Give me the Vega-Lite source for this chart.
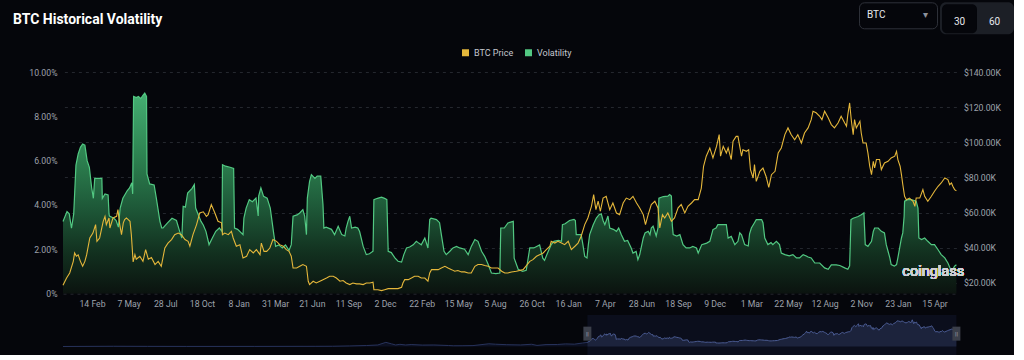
{
  "$schema": "https://vega.github.io/schema/vega-lite/v6.json",
  "background": "#05060b",
  "padding": {"left": 0, "top": 1, "right": 0, "bottom": 0},
  "spacing": 6,
  "config": {"view": {"stroke": null}, "axis": {"labelFont": "Roboto", "labelFontSize": 8.7, "labelColor": "#9ea2ab", "ticks": false, "title": null}, "axisX": {"labelOverlap": false, "labelFlush": false}},
  "datasets": {
    "vol": [
      {"d":"2020-12-11","v":3.25},{"d":"2020-12-20","v":3.7},{"d":"2020-12-25","v":3.6},{"d":"2020-12-30","v":2.95},{"d":"2021-01-04","v":3.6},{"d":"2021-01-09","v":5.8},{"d":"2021-01-14","v":6.3},{"d":"2021-01-19","v":6.6},{"d":"2021-01-24","v":6.75},{"d":"2021-01-29","v":6.7},{"d":"2021-02-03","v":6.0},{"d":"2021-02-08","v":5.7},{"d":"2021-02-13","v":4.8},{"d":"2021-02-17","v":4.3},{"d":"2021-02-20","v":5.2},{"d":"2021-03-08","v":5.2},{"d":"2021-03-09","v":4.3},{"d":"2021-03-15","v":4.5},{"d":"2021-03-22","v":4.45},{"d":"2021-03-24","v":3.6},{"d":"2021-03-25","v":3.5},{"d":"2021-04-04","v":3.4},{"d":"2021-04-09","v":3.3},{"d":"2021-04-14","v":3.0},{"d":"2021-04-18","v":3.86},{"d":"2021-04-24","v":4.3},{"d":"2021-05-04","v":4.65},{"d":"2021-05-09","v":4.77},{"d":"2021-05-14","v":5.0},{"d":"2021-05-16","v":4.5},{"d":"2021-05-18","v":8.9},{"d":"2021-05-24","v":8.85},{"d":"2021-05-29","v":8.9},{"d":"2021-06-03","v":8.8},{"d":"2021-06-08","v":8.95},{"d":"2021-06-12","v":9.05},{"d":"2021-06-16","v":8.9},{"d":"2021-06-17","v":5.4},{"d":"2021-06-23","v":4.95},{"d":"2021-07-03","v":4.9},{"d":"2021-07-08","v":4.3},{"d":"2021-07-16","v":3.26},{"d":"2021-07-20","v":2.96},{"d":"2021-07-23","v":2.96},{"d":"2021-08-02","v":3.19},{"d":"2021-08-12","v":3.4},{"d":"2021-08-22","v":3.3},{"d":"2021-08-28","v":2.89},{"d":"2021-09-03","v":2.51},{"d":"2021-09-06","v":3.94},{"d":"2021-09-11","v":3.9},{"d":"2021-09-16","v":4.54},{"d":"2021-09-26","v":4.75},{"d":"2021-10-01","v":4.92},{"d":"2021-10-04","v":3.86},{"d":"2021-10-11","v":3.5},{"d":"2021-10-16","v":3.26},{"d":"2021-10-21","v":3.1},{"d":"2021-10-27","v":2.81},{"d":"2021-11-03","v":2.21},{"d":"2021-11-10","v":2.5},{"d":"2021-11-18","v":2.81},{"d":"2021-11-26","v":2.96},{"d":"2021-12-02","v":2.8},{"d":"2021-12-03","v":5.82},{"d":"2021-12-10","v":5.75},{"d":"2021-12-20","v":5.7},{"d":"2021-12-28","v":5.65},{"d":"2021-12-30","v":2.96},{"d":"2022-01-06","v":2.9},{"d":"2022-01-18","v":2.66},{"d":"2022-01-20","v":3.41},{"d":"2022-01-25","v":3.86},{"d":"2022-02-01","v":4.24},{"d":"2022-02-08","v":4.15},{"d":"2022-02-16","v":4.31},{"d":"2022-02-21","v":3.5},{"d":"2022-02-22","v":4.4},{"d":"2022-02-27","v":4.77},{"d":"2022-03-05","v":4.39},{"d":"2022-03-13","v":4.31},{"d":"2022-03-20","v":3.86},{"d":"2022-03-28","v":2.66},{"d":"2022-04-01","v":2.13},{"d":"2022-04-08","v":2.2},{"d":"2022-04-16","v":2.06},{"d":"2022-04-23","v":2.2},{"d":"2022-05-01","v":1.95},{"d":"2022-05-06","v":2.21},{"d":"2022-05-10","v":3.49},{"d":"2022-05-19","v":3.55},{"d":"2022-05-25","v":3.64},{"d":"2022-06-01","v":3.79},{"d":"2022-06-05","v":3.5},{"d":"2022-06-09","v":2.66},{"d":"2022-06-11","v":4.31},{"d":"2022-06-16","v":5.07},{"d":"2022-06-20","v":5.37},{"d":"2022-06-28","v":5.2},{"d":"2022-07-03","v":5.3},{"d":"2022-07-11","v":5.3},{"d":"2022-07-16","v":4.02},{"d":"2022-07-18","v":2.96},{"d":"2022-07-23","v":3.0},{"d":"2022-08-04","v":2.9},{"d":"2022-08-11","v":2.66},{"d":"2022-08-19","v":3.04},{"d":"2022-08-27","v":2.66},{"d":"2022-09-03","v":2.6},{"d":"2022-09-06","v":2.96},{"d":"2022-09-10","v":3.26},{"d":"2022-09-14","v":3.49},{"d":"2022-09-18","v":2.96},{"d":"2022-09-26","v":3.0},{"d":"2022-10-02","v":2.96},{"d":"2022-10-06","v":2.8},{"d":"2022-10-14","v":2.13},{"d":"2022-10-21","v":1.76},{"d":"2022-10-28","v":1.8},{"d":"2022-11-05","v":1.91},{"d":"2022-11-07","v":4.24},{"d":"2022-11-15","v":4.3},{"d":"2022-11-24","v":4.35},{"d":"2022-12-01","v":4.3},{"d":"2022-12-06","v":4.24},{"d":"2022-12-09","v":1.91},{"d":"2022-12-16","v":1.85},{"d":"2022-12-24","v":1.61},{"d":"2022-12-31","v":1.46},{"d":"2023-01-08","v":1.42},{"d":"2023-01-13","v":1.76},{"d":"2023-01-19","v":2.06},{"d":"2023-01-26","v":2.1},{"d":"2023-02-03","v":2.2},{"d":"2023-02-10","v":2.36},{"d":"2023-02-14","v":2.3},{"d":"2023-02-21","v":2.2},{"d":"2023-03-01","v":2.51},{"d":"2023-03-08","v":2.06},{"d":"2023-03-12","v":3.34},{"d":"2023-03-15","v":3.4},{"d":"2023-03-27","v":3.34},{"d":"2023-04-03","v":3.2},{"d":"2023-04-07","v":2.66},{"d":"2023-04-13","v":1.91},{"d":"2023-04-18","v":1.76},{"d":"2023-04-26","v":1.91},{"d":"2023-05-03","v":2.06},{"d":"2023-05-11","v":2.13},{"d":"2023-05-18","v":2.06},{"d":"2023-05-29","v":2.0},{"d":"2023-06-06","v":1.76},{"d":"2023-06-13","v":2.13},{"d":"2023-06-21","v":2.44},{"d":"2023-06-28","v":2.36},{"d":"2023-07-06","v":1.91},{"d":"2023-07-13","v":1.68},{"d":"2023-07-21","v":1.31},{"d":"2023-07-28","v":0.93},{"d":"2023-08-07","v":0.9},{"d":"2023-08-16","v":0.93},{"d":"2023-08-18","v":2.96},{"d":"2023-08-26","v":2.96},{"d":"2023-09-03","v":3.19},{"d":"2023-09-15","v":3.26},{"d":"2023-09-17","v":1.6},{"d":"2023-09-26","v":1.1},{"d":"2023-10-06","v":1.0},{"d":"2023-10-14","v":1.05},{"d":"2023-10-22","v":2.06},{"d":"2023-10-31","v":2.06},{"d":"2023-11-13","v":2.2},{"d":"2023-11-20","v":1.6},{"d":"2023-11-24","v":1.5},{"d":"2023-11-30","v":1.8},{"d":"2023-12-09","v":2.21},{"d":"2023-12-15","v":2.36},{"d":"2023-12-25","v":2.4},{"d":"2024-01-01","v":2.36},{"d":"2024-01-03","v":3.11},{"d":"2024-01-09","v":3.15},{"d":"2024-01-19","v":3.3},{"d":"2024-01-29","v":3.35},{"d":"2024-02-01","v":3.3},{"d":"2024-02-03","v":2.66},{"d":"2024-02-14","v":2.66},{"d":"2024-02-18","v":2.2},{"d":"2024-02-22","v":1.68},{"d":"2024-02-27","v":1.61},{"d":"2024-03-01","v":2.2},{"d":"2024-03-04","v":2.66},{"d":"2024-03-12","v":3.11},{"d":"2024-03-19","v":3.41},{"d":"2024-03-25","v":3.56},{"d":"2024-03-30","v":3.6},{"d":"2024-04-03","v":3.3},{"d":"2024-04-07","v":3.11},{"d":"2024-04-14","v":3.5},{"d":"2024-04-18","v":2.96},{"d":"2024-04-26","v":2.9},{"d":"2024-05-03","v":2.81},{"d":"2024-05-08","v":2.96},{"d":"2024-05-14","v":2.66},{"d":"2024-05-21","v":2.36},{"d":"2024-05-28","v":2.4},{"d":"2024-06-05","v":2.06},{"d":"2024-06-09","v":1.83},{"d":"2024-06-16","v":1.9},{"d":"2024-06-20","v":1.53},{"d":"2024-06-24","v":1.75},{"d":"2024-07-02","v":2.51},{"d":"2024-07-06","v":2.74},{"d":"2024-07-13","v":2.81},{"d":"2024-07-17","v":2.66},{"d":"2024-07-20","v":2.96},{"d":"2024-07-24","v":3.04},{"d":"2024-07-31","v":2.6},{"d":"2024-08-04","v":2.96},{"d":"2024-08-06","v":4.31},{"d":"2024-08-16","v":4.38},{"d":"2024-08-26","v":4.4},{"d":"2024-08-30","v":4.47},{"d":"2024-09-03","v":4.4},{"d":"2024-09-05","v":3.1},{"d":"2024-09-07","v":2.66},{"d":"2024-09-15","v":2.6},{"d":"2024-09-22","v":2.66},{"d":"2024-09-29","v":2.21},{"d":"2024-10-06","v":2.06},{"d":"2024-10-14","v":2.06},{"d":"2024-10-21","v":2.13},{"d":"2024-10-29","v":2.06},{"d":"2024-11-02","v":1.83},{"d":"2024-11-10","v":2.21},{"d":"2024-11-21","v":2.28},{"d":"2024-11-28","v":2.36},{"d":"2024-12-05","v":2.89},{"d":"2024-12-12","v":2.96},{"d":"2024-12-16","v":3.11},{"d":"2024-12-27","v":3.11},{"d":"2025-01-04","v":3.11},{"d":"2025-01-08","v":2.51},{"d":"2025-01-15","v":2.58},{"d":"2025-01-23","v":2.21},{"d":"2025-01-30","v":2.36},{"d":"2025-02-03","v":2.74},{"d":"2025-02-07","v":2.65},{"d":"2025-02-14","v":2.21},{"d":"2025-02-22","v":2.15},{"d":"2025-02-25","v":2.7},{"d":"2025-03-01","v":2.96},{"d":"2025-03-08","v":3.2},{"d":"2025-03-12","v":3.34},{"d":"2025-03-24","v":3.34},{"d":"2025-03-27","v":3.2},{"d":"2025-03-31","v":2.51},{"d":"2025-04-07","v":2.21},{"d":"2025-04-14","v":2.3},{"d":"2025-04-18","v":2.21},{"d":"2025-04-26","v":2.36},{"d":"2025-05-03","v":2.21},{"d":"2025-05-07","v":1.83},{"d":"2025-05-15","v":1.76},{"d":"2025-05-25","v":1.7},{"d":"2025-06-02","v":1.76},{"d":"2025-06-10","v":1.61},{"d":"2025-06-17","v":1.61},{"d":"2025-06-25","v":1.76},{"d":"2025-07-02","v":1.7},{"d":"2025-07-06","v":1.65},{"d":"2025-07-13","v":1.61},{"d":"2025-07-21","v":1.38},{"d":"2025-08-01","v":1.38},{"d":"2025-08-12","v":1.16},{"d":"2025-08-20","v":1.1},{"d":"2025-08-27","v":1.3},{"d":"2025-09-07","v":1.3},{"d":"2025-09-15","v":1.27},{"d":"2025-09-26","v":1.16},{"d":"2025-10-03","v":1.1},{"d":"2025-10-07","v":1.25},{"d":"2025-10-10","v":3.34},{"d":"2025-10-15","v":3.4},{"d":"2025-10-26","v":3.48},{"d":"2025-11-02","v":3.56},{"d":"2025-11-08","v":3.64},{"d":"2025-11-11","v":2.21},{"d":"2025-11-17","v":2.13},{"d":"2025-11-25","v":2.36},{"d":"2025-11-29","v":2.81},{"d":"2025-12-02","v":2.96},{"d":"2025-12-10","v":2.96},{"d":"2025-12-17","v":2.81},{"d":"2025-12-24","v":2.74},{"d":"2025-12-28","v":2.21},{"d":"2026-01-01","v":1.91},{"d":"2026-01-05","v":1.61},{"d":"2026-01-08","v":1.31},{"d":"2026-01-15","v":1.24},{"d":"2026-01-20","v":1.31},{"d":"2026-01-23","v":1.61},{"d":"2026-01-27","v":2.06},{"d":"2026-01-31","v":2.51},{"d":"2026-02-03","v":2.74},{"d":"2026-02-06","v":3.49},{"d":"2026-02-07","v":4.17},{"d":"2026-02-14","v":4.24},{"d":"2026-02-22","v":4.24},{"d":"2026-03-05","v":4.17},{"d":"2026-03-09","v":3.86},{"d":"2026-03-11","v":2.51},{"d":"2026-03-17","v":2.44},{"d":"2026-03-24","v":2.51},{"d":"2026-03-31","v":2.36},{"d":"2026-04-08","v":2.21},{"d":"2026-04-15","v":2.21},{"d":"2026-04-23","v":1.98},{"d":"2026-04-30","v":1.76},{"d":"2026-05-08","v":1.61},{"d":"2026-05-15","v":1.38},{"d":"2026-05-23","v":1.0},{"d":"2026-05-26","v":1.1},{"d":"2026-05-30","v":1.24},{"d":"2026-06-03","v":1.3}
    ],
    "price": [
      {"d":"2020-12-11","p":18.7},{"d":"2020-12-19","p":22.8},{"d":"2020-12-26","p":25.7},{"d":"2021-01-03","p":32.3},{"d":"2021-01-06","p":37.1},{"d":"2021-01-10","p":35.2},{"d":"2021-01-14","p":36.0},{"d":"2021-01-19","p":32.3},{"d":"2021-01-24","p":29.5},{"d":"2021-01-29","p":32.3},{"d":"2021-02-02","p":36.1},{"d":"2021-02-09","p":45.6},{"d":"2021-02-16","p":48.4},{"d":"2021-02-22","p":53.2},{"d":"2021-02-25","p":43.7},{"d":"2021-03-03","p":45.6},{"d":"2021-03-11","p":55.1},{"d":"2021-03-15","p":57.9},{"d":"2021-03-18","p":53.2},{"d":"2021-03-24","p":57.0},{"d":"2021-03-26","p":51.3},{"d":"2021-04-02","p":57.0},{"d":"2021-04-10","p":57.9},{"d":"2021-04-13","p":61.7},{"d":"2021-04-17","p":53.2},{"d":"2021-04-21","p":47.5},{"d":"2021-04-25","p":54.2},{"d":"2021-04-28","p":56.1},{"d":"2021-05-02","p":57.0},{"d":"2021-05-10","p":55.1},{"d":"2021-05-13","p":47.5},{"d":"2021-05-17","p":32.0},{"d":"2021-05-21","p":36.1},{"d":"2021-05-24","p":33.5},{"d":"2021-06-01","p":35.2},{"d":"2021-06-08","p":32.3},{"d":"2021-06-14","p":39.0},{"d":"2021-06-20","p":33.5},{"d":"2021-06-27","p":34.5},{"d":"2021-07-05","p":30.5},{"d":"2021-07-12","p":32.3},{"d":"2021-07-19","p":29.5},{"d":"2021-07-27","p":39.9},{"d":"2021-08-03","p":42.7},{"d":"2021-08-11","p":44.7},{"d":"2021-08-18","p":47.5},{"d":"2021-08-26","p":48.4},{"d":"2021-09-02","p":47.5},{"d":"2021-09-10","p":44.7},{"d":"2021-09-17","p":43.7},{"d":"2021-09-21","p":40.9},{"d":"2021-09-28","p":47.5},{"d":"2021-10-06","p":53.2},{"d":"2021-10-13","p":59.8},{"d":"2021-10-21","p":60.5},{"d":"2021-10-28","p":57.9},{"d":"2021-11-01","p":58.9},{"d":"2021-11-08","p":64.6},{"d":"2021-11-16","p":59.8},{"d":"2021-11-23","p":55.1},{"d":"2021-12-01","p":54.2},{"d":"2021-12-03","p":47.5},{"d":"2021-12-08","p":48.4},{"d":"2021-12-16","p":47.5},{"d":"2021-12-23","p":49.4},{"d":"2021-12-27","p":45.6},{"d":"2022-01-03","p":40.9},{"d":"2022-01-11","p":41.8},{"d":"2022-01-18","p":34.2},{"d":"2022-01-26","p":35.2},{"d":"2022-02-02","p":39.0},{"d":"2022-02-10","p":37.1},{"d":"2022-02-17","p":39.0},{"d":"2022-02-25","p":36.1},{"d":"2022-02-28","p":42.7},{"d":"2022-03-06","p":38.0},{"d":"2022-03-12","p":38.0},{"d":"2022-03-19","p":39.9},{"d":"2022-03-26","p":44.7},{"d":"2022-04-03","p":43.7},{"d":"2022-04-10","p":41.8},{"d":"2022-04-18","p":40.9},{"d":"2022-04-25","p":39.0},{"d":"2022-05-01","p":38.0},{"d":"2022-05-06","p":35.2},{"d":"2022-05-10","p":28.5},{"d":"2022-05-18","p":28.5},{"d":"2022-05-25","p":29.5},{"d":"2022-06-01","p":30.5},{"d":"2022-06-09","p":29.5},{"d":"2022-06-13","p":21.0},{"d":"2022-06-16","p":19.1},{"d":"2022-06-24","p":21.0},{"d":"2022-07-01","p":20.0},{"d":"2022-07-09","p":21.0},{"d":"2022-07-16","p":21.9},{"d":"2022-07-24","p":22.8},{"d":"2022-07-31","p":23.8},{"d":"2022-08-08","p":23.8},{"d":"2022-08-15","p":22.8},{"d":"2022-08-23","p":21.0},{"d":"2022-08-30","p":21.4},{"d":"2022-09-06","p":20.0},{"d":"2022-09-14","p":19.1},{"d":"2022-09-21","p":20.0},{"d":"2022-09-29","p":19.5},{"d":"2022-10-06","p":19.5},{"d":"2022-10-14","p":19.1},{"d":"2022-10-21","p":20.0},{"d":"2022-10-29","p":20.0},{"d":"2022-11-05","p":20.4},{"d":"2022-11-07","p":16.2},{"d":"2022-11-16","p":16.2},{"d":"2022-11-24","p":15.7},{"d":"2022-12-01","p":16.2},{"d":"2022-12-09","p":16.8},{"d":"2022-12-16","p":16.8},{"d":"2022-12-24","p":16.8},{"d":"2022-12-31","p":16.8},{"d":"2023-01-08","p":17.6},{"d":"2023-01-11","p":20.0},{"d":"2023-01-15","p":21.9},{"d":"2023-01-23","p":21.9},{"d":"2023-01-30","p":22.8},{"d":"2023-02-06","p":23.8},{"d":"2023-02-14","p":23.8},{"d":"2023-02-21","p":22.8},{"d":"2023-03-01","p":22.8},{"d":"2023-03-08","p":21.0},{"d":"2023-03-12","p":25.7},{"d":"2023-03-16","p":27.6},{"d":"2023-03-23","p":27.6},{"d":"2023-03-31","p":27.6},{"d":"2023-04-07","p":28.5},{"d":"2023-04-15","p":29.5},{"d":"2023-04-22","p":28.5},{"d":"2023-04-30","p":27.6},{"d":"2023-05-07","p":26.7},{"d":"2023-05-14","p":27.1},{"d":"2023-05-22","p":26.3},{"d":"2023-05-29","p":26.3},{"d":"2023-06-06","p":25.7},{"d":"2023-06-13","p":25.7},{"d":"2023-06-21","p":29.5},{"d":"2023-06-28","p":30.5},{"d":"2023-07-06","p":30.5},{"d":"2023-07-13","p":30.0},{"d":"2023-07-21","p":29.5},{"d":"2023-07-28","p":28.5},{"d":"2023-08-12","p":28.5},{"d":"2023-08-20","p":26.7},{"d":"2023-08-27","p":25.7},{"d":"2023-09-03","p":25.7},{"d":"2023-09-11","p":26.3},{"d":"2023-09-22","p":26.7},{"d":"2023-10-07","p":27.6},{"d":"2023-10-22","p":32.3},{"d":"2023-10-29","p":33.3},{"d":"2023-11-06","p":35.2},{"d":"2023-11-13","p":36.1},{"d":"2023-11-21","p":37.1},{"d":"2023-11-28","p":39.0},{"d":"2023-12-06","p":40.9},{"d":"2023-12-09","p":43.7},{"d":"2023-12-17","p":42.7},{"d":"2023-12-24","p":43.7},{"d":"2024-01-01","p":42.7},{"d":"2024-01-08","p":41.8},{"d":"2024-01-16","p":43.7},{"d":"2024-01-23","p":39.0},{"d":"2024-01-31","p":40.9},{"d":"2024-02-07","p":42.7},{"d":"2024-02-14","p":46.6},{"d":"2024-02-22","p":53.2},{"d":"2024-02-29","p":57.0},{"d":"2024-03-08","p":63.6},{"d":"2024-03-13","p":70.3},{"d":"2024-03-18","p":61.7},{"d":"2024-03-23","p":66.5},{"d":"2024-03-28","p":60.8},{"d":"2024-04-03","p":68.3},{"d":"2024-04-10","p":69.3},{"d":"2024-04-18","p":61.7},{"d":"2024-04-25","p":65.5},{"d":"2024-05-03","p":59.8},{"d":"2024-05-10","p":58.9},{"d":"2024-05-18","p":65.5},{"d":"2024-05-25","p":68.3},{"d":"2024-06-02","p":67.4},{"d":"2024-06-09","p":69.3},{"d":"2024-06-17","p":65.5},{"d":"2024-06-24","p":62.7},{"d":"2024-07-02","p":58.9},{"d":"2024-07-07","p":53.2},{"d":"2024-07-13","p":58.9},{"d":"2024-07-20","p":64.6},{"d":"2024-07-28","p":66.5},{"d":"2024-08-04","p":62.7},{"d":"2024-08-08","p":51.3},{"d":"2024-08-14","p":58.9},{"d":"2024-08-19","p":57.0},{"d":"2024-08-26","p":59.8},{"d":"2024-09-03","p":55.1},{"d":"2024-09-10","p":57.0},{"d":"2024-09-18","p":62.7},{"d":"2024-09-25","p":64.6},{"d":"2024-10-03","p":59.8},{"d":"2024-10-10","p":63.6},{"d":"2024-10-18","p":65.5},{"d":"2024-10-25","p":67.4},{"d":"2024-11-02","p":67.4},{"d":"2024-11-05","p":70.3},{"d":"2024-11-09","p":74.0},{"d":"2024-11-14","p":86.4},{"d":"2024-11-20","p":92.1},{"d":"2024-11-28","p":96.8},{"d":"2024-12-05","p":91.1},{"d":"2024-12-13","p":97.7},{"d":"2024-12-19","p":104.4},{"d":"2024-12-22","p":92.1},{"d":"2024-12-28","p":97.7},{"d":"2025-01-04","p":93.9},{"d":"2025-01-08","p":96.8},{"d":"2025-01-15","p":90.2},{"d":"2025-01-19","p":100.6},{"d":"2025-01-26","p":103.4},{"d":"2025-01-30","p":103.4},{"d":"2025-02-03","p":97.7},{"d":"2025-02-07","p":92.1},{"d":"2025-02-10","p":95.8},{"d":"2025-02-18","p":94.9},{"d":"2025-02-23","p":95.8},{"d":"2025-02-27","p":84.5},{"d":"2025-03-05","p":79.7},{"d":"2025-03-08","p":87.3},{"d":"2025-03-12","p":77.8},{"d":"2025-03-20","p":83.5},{"d":"2025-03-27","p":85.4},{"d":"2025-04-03","p":80.6},{"d":"2025-04-09","p":74.4},{"d":"2025-04-15","p":81.6},{"d":"2025-04-23","p":83.5},{"d":"2025-04-30","p":93.9},{"d":"2025-05-07","p":96.8},{"d":"2025-05-15","p":104.4},{"d":"2025-05-22","p":108.2},{"d":"2025-05-29","p":104.4},{"d":"2025-06-06","p":101.5},{"d":"2025-06-13","p":104.4},{"d":"2025-06-21","p":99.6},{"d":"2025-06-28","p":105.3},{"d":"2025-07-06","p":108.2},{"d":"2025-07-13","p":112.9},{"d":"2025-07-17","p":117.7},{"d":"2025-07-24","p":116.8},{"d":"2025-08-01","p":114.8},{"d":"2025-08-06","p":112.9},{"d":"2025-08-12","p":117.7},{"d":"2025-08-20","p":114.0},{"d":"2025-08-27","p":110.1},{"d":"2025-09-03","p":108.2},{"d":"2025-09-11","p":111.0},{"d":"2025-09-18","p":114.8},{"d":"2025-09-26","p":111.0},{"d":"2025-09-30","p":109.2},{"d":"2025-10-03","p":115.8},{"d":"2025-10-07","p":122.4},{"d":"2025-10-11","p":112.0},{"d":"2025-10-15","p":104.4},{"d":"2025-10-18","p":112.9},{"d":"2025-10-22","p":108.2},{"d":"2025-10-30","p":112.0},{"d":"2025-11-02","p":105.3},{"d":"2025-11-06","p":99.6},{"d":"2025-11-13","p":99.6},{"d":"2025-11-17","p":93.9},{"d":"2025-11-21","p":86.4},{"d":"2025-11-25","p":81.6},{"d":"2025-11-29","p":89.2},{"d":"2025-12-02","p":85.4},{"d":"2025-12-06","p":90.2},{"d":"2025-12-13","p":90.2},{"d":"2025-12-17","p":84.5},{"d":"2025-12-24","p":88.3},{"d":"2026-01-01","p":89.2},{"d":"2026-01-08","p":91.1},{"d":"2026-01-16","p":92.1},{"d":"2026-01-20","p":94.9},{"d":"2026-01-23","p":90.2},{"d":"2026-01-28","p":86.4},{"d":"2026-01-31","p":81.6},{"d":"2026-02-03","p":76.0},{"d":"2026-02-07","p":69.3},{"d":"2026-02-11","p":67.4},{"d":"2026-02-18","p":68.3},{"d":"2026-02-26","p":66.5},{"d":"2026-03-02","p":63.6},{"d":"2026-03-05","p":68.3},{"d":"2026-03-13","p":68.3},{"d":"2026-03-20","p":73.1},{"d":"2026-03-24","p":69.3},{"d":"2026-03-31","p":66.5},{"d":"2026-04-08","p":69.3},{"d":"2026-04-15","p":72.2},{"d":"2026-04-23","p":75.0},{"d":"2026-04-30","p":76.9},{"d":"2026-05-08","p":79.7},{"d":"2026-05-15","p":78.8},{"d":"2026-05-19","p":75.9},{"d":"2026-05-23","p":76.9},{"d":"2026-05-26","p":75.0},{"d":"2026-05-30","p":73.1},{"d":"2026-06-03","p":72.5}
    ],
    "hist": [
      {"d":"2013-03-01","p":0.05},{"d":"2013-12-01","p":1.0},{"d":"2014-06-01","p":0.6},{"d":"2015-01-01","p":0.3},{"d":"2016-01-01","p":0.4},{"d":"2016-12-01","p":0.8},{"d":"2017-03-01","p":1.1},{"d":"2017-06-01","p":2.5},{"d":"2017-09-01","p":4.5},{"d":"2017-11-01","p":7.0},{"d":"2017-12-15","p":19.0},{"d":"2018-01-15","p":12.0},{"d":"2018-02-06","p":7.0},{"d":"2018-03-01","p":10.0},{"d":"2018-04-01","p":7.0},{"d":"2018-05-01","p":9.0},{"d":"2018-07-01","p":6.5},{"d":"2018-09-01","p":7.0},{"d":"2018-11-20","p":4.5},{"d":"2018-12-15","p":3.3},{"d":"2019-02-01","p":3.5},{"d":"2019-04-01","p":4.1},{"d":"2019-06-26","p":12.5},{"d":"2019-08-01","p":10.5},{"d":"2019-10-01","p":8.3},{"d":"2019-12-15","p":7.1},{"d":"2020-02-13","p":10.3},{"d":"2020-03-13","p":5.0},{"d":"2020-05-01","p":8.8},{"d":"2020-07-01","p":9.2},{"d":"2020-08-15","p":11.9},{"d":"2020-10-01","p":10.6},{"d":"2020-11-15","p":16.0},{"d":"2020-12-11","p":18.7}
    ],
    "sel": [{"s":"2020-12-11","e":"2026-06-03"}],
    "handles": [{"d":"2020-12-11"},{"d":"2026-06-03"}],
    "controls": [{"w":"30"},{"w":"60"}]
  },
  "vconcat": [
    {
      "title": {"text": "BTC Historical Volatility", "anchor": "start", "dx": 13, "color": "#ffffff", "fontSize": 14, "fontWeight": "bold", "font": "Roboto", "offset": 41},
      "width": 893.4,
      "height": 221.6,
      "encoding": {
        "x": {"field": "d", "type": "temporal",
          "scale": {"type": "utc", "domain": [{"year":2020,"month":12,"date":11,"utc":true},{"year":2026,"month":6,"date":3,"utc":true}]},
          "axis": {"values": [
            {"year":2021,"month":2,"date":14,"utc":true},{"year":2021,"month":5,"date":7,"utc":true},{"year":2021,"month":7,"date":28,"utc":true},{"year":2021,"month":10,"date":18,"utc":true},
            {"year":2022,"month":1,"date":8,"utc":true},{"year":2022,"month":3,"date":31,"utc":true},{"year":2022,"month":6,"date":21,"utc":true},{"year":2022,"month":9,"date":11,"utc":true},{"year":2022,"month":12,"date":2,"utc":true},
            {"year":2023,"month":2,"date":22,"utc":true},{"year":2023,"month":5,"date":15,"utc":true},{"year":2023,"month":8,"date":5,"utc":true},{"year":2023,"month":10,"date":26,"utc":true},
            {"year":2024,"month":1,"date":16,"utc":true},{"year":2024,"month":4,"date":7,"utc":true},{"year":2024,"month":6,"date":28,"utc":true},{"year":2024,"month":9,"date":18,"utc":true},{"year":2024,"month":12,"date":9,"utc":true},
            {"year":2025,"month":3,"date":1,"utc":true},{"year":2025,"month":5,"date":22,"utc":true},{"year":2025,"month":8,"date":12,"utc":true},{"year":2025,"month":11,"date":2,"utc":true},
            {"year":2026,"month":1,"date":23,"utc":true},{"year":2026,"month":4,"date":15,"utc":true}],
            "format": "%-d %b", "labelFlush": false, "labelOverlap": false, "labelSeparation": 0, "grid": false, "domain": true, "domainColor": "#2a2d35", "domainDash": [3, 4], "labelPadding": 6, "minExtent": 14, "maxExtent": 14}
        }
      },
      "layer": [
        {
          "data": {"name": "vol"},
          "encoding": {
            "y": {"field": "v", "type": "quantitative", "scale": {"domain": [0, 10], "nice": false},
              "axis": {"orient": "left", "values": [0, 2, 4, 6, 8, 10], "labelExpr": "datum.value == 0 ? '0%' : format(datum.value, '.2f') + '%'", "grid": false, "domain": false, "labelPadding": 6, "minExtent": 63, "maxExtent": 63}}
          },
          "layer": [
            {"mark": {"type": "area", "interpolate": "linear", "color": {"gradient": "linear", "x1": 1, "y1": 1, "x2": 1, "y2": 0, "stops": [{"offset": 0, "color": "#0b130f"}, {"offset": 0.2, "color": "#12301f"}, {"offset": 0.45, "color": "#1f5c3a"}, {"offset": 0.7, "color": "#2e8452"}, {"offset": 1, "color": "#45ae72"}]}}},
            {"mark": {"type": "line", "strokeWidth": 1.2, "interpolate": "linear"},
             "encoding": {"color": {"datum": "Volatility", "type": "nominal", "scale": {"domain": ["BTC Price", "Volatility"], "range": ["#e5b73b", "#52c882"]},
               "legend": {"orient": "none", "legendX": 398, "legendY": -24, "direction": "horizontal", "title": null, "symbolType": "square", "symbolSize": 49, "symbolStrokeWidth": 0, "labelColor": "#c4c7ce", "labelFont": "Roboto", "labelFontSize": 9, "columnPadding": 10, "labelOffset": 4,
                 "encode": {"symbols": {"update": {"fill": {"scale": "color", "field": "value"}, "strokeWidth": {"value": 0}}}}}}}},
            {"mark": {"type": "text", "text": "coinglass", "align": "left", "baseline": "middle", "font": "Roboto", "fontSize": 14.5, "fontWeight": "normal", "color": "#d0d2d6", "opacity": 0.85},
             "encoding": {"x": {"datum": {"year": 2026, "month": 2, "date": 2, "utc": true}, "type": "temporal"}, "y": {"datum": 0.96}}}
          ]
        },
        {
          "data": {"name": "price"},
          "mark": {"type": "line", "strokeWidth": 1.1, "interpolate": "linear"},
          "encoding": {
            "y": {"field": "p", "type": "quantitative", "scale": {"domain": [13.97, 140], "nice": false, "zero": false},
              "axis": {"orient": "right", "values": [20, 40, 60, 80, 100, 120, 140], "labelExpr": "'$' + format(datum.value, '.2f') + 'K'", "grid": true, "gridColor": "#24272e", "gridDash": [3, 4], "domain": false, "labelPadding": 7}},
            "color": {"datum": "BTC Price", "type": "nominal"}
          }
        },
        {
          "data": {"name": "controls"},
          "mark": {"type": "point", "opacity": 0},
          "encoding": {
            "x": {"value": 0},
            "y": {"value": 0},
            "shape": {"datum": "BTC", "type": "nominal", "scale": {"domain": ["BTC"], "range": ["circle"]},
              "legend": {"orient": "none", "legendX": 796, "legendY": -69.7, "title": "BTC", "titleOrient": "left", "titleAnchor": "middle", "titleBaseline": "middle", "titleColor": "#e6e8ec", "titleFont": "Roboto", "titleFontSize": 10, "titleFontWeight": "normal", "titlePadding": 27,
                "strokeColor": "#2e3139", "cornerRadius": 5, "padding": 8, "labelExpr": "'▾'", "labelColor": "#8d919b", "labelFont": "DejaVu Sans", "labelFontSize": 10, "labelOffset": 0, "symbolSize": 0, "symbolStrokeWidth": 0}},
            "stroke": {"field": "w", "type": "nominal", "scale": {"domain": ["30", "60"], "range": ["transparent", "transparent"]},
              "legend": {"orient": "none", "legendX": 877, "legendY": -69.7, "direction": "horizontal", "title": null, "fillColor": "#1c1f26", "cornerRadius": 6, "padding": 2, "columnPadding": 0, "symbolType": "M-1,-0.55L1,-0.55L1,0.55L-1,0.55Z", "symbolSize": 1225, "symbolStrokeWidth": 0, "labelAlign": "center", "labelOffset": -17.5, "labelColor": "#e6e8ec", "labelFont": "Roboto", "labelFontSize": 10}},
            "strokeDash": {"datum": "30", "type": "nominal", "scale": {"domain": ["30"], "range": [[1, 0]]},
              "legend": {"orient": "none", "legendX": 879, "legendY": -67.7, "title": null, "fillColor": "#05060b", "cornerRadius": 5, "padding": 6, "symbolType": "M-1,-0.1L1,-0.1L1,0.1L-1,0.1Z", "symbolSize": 529, "symbolStrokeWidth": 0, "labelAlign": "center", "labelOffset": -11.5, "labelColor": "#e6e8ec", "labelFont": "Roboto", "labelFontSize": 10}}
          }
        }
      ],
      "resolve": {"scale": {"y": "independent"}}
    },
    {
      "width": 893.4,
      "height": 40,
      "encoding": {
        "x": {"field": "d", "type": "temporal", "scale": {"type": "utc", "domain": [{"year":2013,"month":3,"date":1,"utc":true},{"year":2026,"month":6,"date":3,"utc":true}]}, "axis": null}
      },
      "layer": [
        {"data": {"name": "sel"}, "mark": {"type": "rect", "color": "#0b0e1c"},
         "encoding": {"x": {"field": "s", "type": "temporal"}, "x2": {"field": "e"}}},
        {"data": {"name": "hist"}, "mark": {"type": "area", "color": "#10162b", "line": {"color": "#27325a", "strokeWidth": 1}},
         "encoding": {"y": {"field": "p", "type": "quantitative", "scale": {"domain": [-39, 144.5], "nice": false, "zero": false}, "axis": null}, "y2": {"value": "height"}}},
        {"data": {"name": "price"}, "mark": {"type": "area", "color": "#242c4a", "line": {"color": "#4a5b93", "strokeWidth": 1}},
         "encoding": {"y": {"field": "p", "type": "quantitative"}, "y2": {"value": "height"}}},
        {"data": {"name": "handles"}, "mark": {"type": "point", "shape": "M-0.5,-0.875L0.5,-0.875L0.5,0.875L-0.5,0.875Z", "size": 256, "filled": true, "color": "#3b3f4a", "opacity": 1},
         "encoding": {"y": {"datum": 59}}},
        {"data": {"name": "handles"}, "mark": {"type": "text", "text": "||", "font": "Roboto", "fontSize": 6, "color": "#a3a8b3", "baseline": "middle", "align": "center"},
         "encoding": {"y": {"datum": 59}}}
      ]
    }
  ]
}
